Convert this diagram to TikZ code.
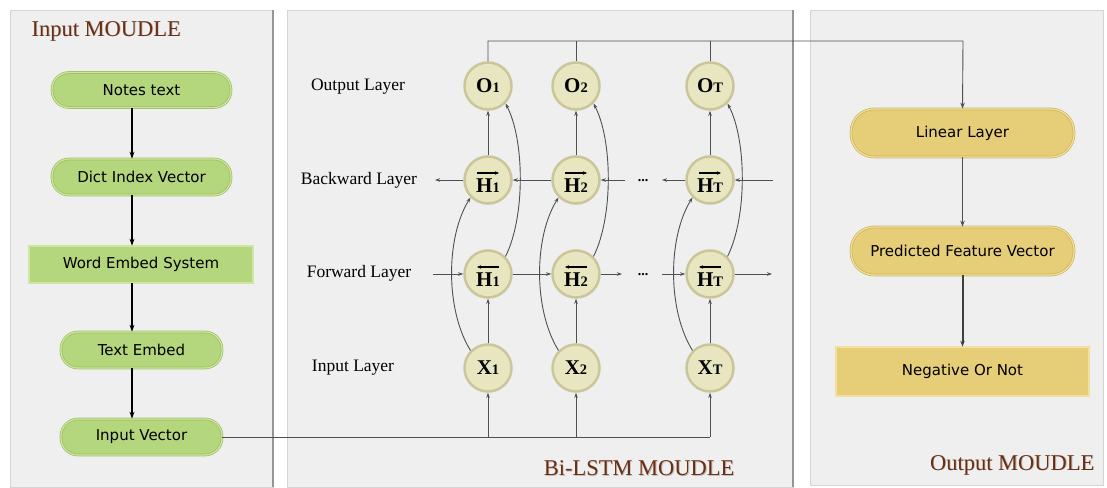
\documentclass[tikz,border=0pt]{standalone}
\usepackage{fontspec}
\setmainfont{Liberation Serif}
\newfontfamily\handfont{DejaVu Sans}
\usetikzlibrary{arrows.meta}
\definecolor{panelbg}{HTML}{EFEFEF}
\definecolor{panelline}{HTML}{D4D4D4}
\definecolor{panelshadow}{HTML}{959595}
\definecolor{gfill}{HTML}{B4D67C}
\definecolor{gline}{HTML}{9DBF62}
\definecolor{ginner}{HTML}{CDE6A2}
\definecolor{yfill}{HTML}{E6CD78}
\definecolor{yline}{HTML}{CFB35A}
\definecolor{yinner}{HTML}{F2E0A0}
\definecolor{cfill}{HTML}{E8E6C0}
\definecolor{cline}{HTML}{CAC699}
\definecolor{titlebrown}{HTML}{6B2E12}
\definecolor{conngray}{HTML}{505050}
\newcommand{\cirlab}[2]{{\bfseries #1{\fontsize{14.5}{14.5}\selectfont #2}}}
\newcommand{\hlab}[2]{\raisebox{-12pt}[0pt][0pt]{\cirlab{#1}{#2}}}
\tikzset{
  panel/.style={fill=panelbg,draw=panelline,line width=0.8pt},
  gbox/.style={draw=gline,fill=gfill,line width=0.7pt,double=ginner,double distance=1.2pt,font=\handfont\fontsize{15}{17}\selectfont,inner sep=0pt},
  gpill/.style={gbox,rounded corners=17pt},
  ybox/.style={draw=yline,fill=yfill,line width=0.7pt,double=yinner,double distance=1.2pt,font=\handfont\fontsize{15}{17}\selectfont,inner sep=0pt},
  ypill/.style={ybox,rounded corners=23pt},
  cnode/.style={circle,fill=cfill,draw=cline,line width=2.5pt,minimum size=47pt,inner sep=0pt,font=\fontsize{21}{22}\selectfont},
  layerlab/.style={font=\fontsize{17.5}{19}\selectfont},
  titletext/.style={font=\fontsize{22.5}{24}\selectfont,text=titlebrown},
  titleshadow/.style={font=\fontsize{22.5}{24}\selectfont,text=black!25},
  blackarrow/.style={draw=black,line width=1.5pt,-{Stealth[length=7pt,width=5pt]}},
  grayarrow/.style={draw=conngray,line width=1.1pt,-{Stealth[length=6pt,width=4.5pt]}},
  thin/.style={draw=conngray,line width=0.9pt},
  thinarrow/.style={thin,-{Stealth[length=5pt,width=3.5pt]}},
  vecarrow/.style={draw=black,line width=1.1pt,-{Stealth[length=4pt,width=3.5pt]}},
  dots/.style={font=\bfseries\fontsize{14}{14}\selectfont}
}
\begin{document}
\begin{tikzpicture}[x=1pt,y=-1pt]
\useasboundingbox (0,0) rectangle (1107,487);
\fill[white] (0,0) rectangle (1107,487);
% panels
\draw[panel] (10,10) rectangle (273,487);
\draw[panelshadow,line width=2pt] (273,10) -- (273,487);
\draw[panel] (287,10) rectangle (793,487);
\draw[panelshadow,line width=2pt] (793,10) -- (793,487);
\draw[panel] (810,10) rectangle (1103,485);
% titles
\node[titleshadow,anchor=west] at (28.8,31.8) {Input MOUDLE};
\node[titletext,anchor=west] (t1) at (28,31) {Input MOUDLE};
\node[titleshadow,anchor=east] at (738.8,468.8) {Bi-LSTM MOUDLE};
\node[titletext,anchor=east] (t2) at (738,468) {Bi-LSTM MOUDLE};
\node[titleshadow,anchor=east] at (1098.8,465.8) {Output MOUDLE};
\node[titletext,anchor=east] (t3) at (1098,465) {Output MOUDLE};
% input module
\node[gpill,minimum width=179pt,minimum height=35pt] (notes) at (141.5,90) {Notes text};
\node[gpill,minimum width=179pt,minimum height=36pt] (dict) at (141.5,177) {Dict Index Vector};
\node[gbox,minimum width=224pt,minimum height=37pt] (wes) at (141,264.5) {Word Embed System};
\node[gpill,minimum width=161pt,minimum height=36pt] (temb) at (141.5,350) {Text Embed};
\node[gpill,minimum width=161pt,minimum height=36pt] (ivec) at (141.5,437) {Input Vector};
\coordinate (lc) at (132,0);
\draw[blackarrow,line width=2pt] (notes.south -| lc) -- (dict.north -| lc);
\draw[blackarrow] (dict.south -| lc) -- (wes.north -| lc);
\draw[blackarrow] (wes.south -| lc) -- (temb.north -| lc);
\draw[blackarrow] (temb.south -| lc) -- (ivec.north -| lc);
% layer labels
\node[layerlab] (lo) at (358,87) {Output Layer};
\node[layerlab] (lb) at (359,180) {Backward Layer};
\node[layerlab] (lf) at (359,273) {Forward Layer};
\node[layerlab] (li) at (353,368) {Input Layer};
% circles
\node[cnode] (o1) at (488,86) {\cirlab{O}{1}};
\node[cnode] (o2) at (576,86) {\cirlab{O}{2}};
\node[cnode] (oT) at (710,86) {\cirlab{O}{T}};
\node[cnode] (hb1) at (488,180) {\hlab{H}{1}};
\node[cnode] (hb2) at (576,180) {\hlab{H}{2}};
\node[cnode] (hbT) at (710,180) {\hlab{H}{T}};
\node[cnode] (hf1) at (488,274) {\hlab{H}{1}};
\node[cnode] (hf2) at (576,274) {\hlab{H}{2}};
\node[cnode] (hfT) at (710,274) {\hlab{H}{T}};
\node[cnode] (x1) at (488,368) {\cirlab{X}{1}};
\node[cnode] (x2) at (576,368) {\cirlab{X}{2}};
\node[cnode] (xT) at (710,368) {\cirlab{X}{T}};
% vector arrows over H
\foreach \c in {1,2,T}{
  \draw[vecarrow] ([xshift=-11pt,yshift=7pt]hb\c.center) -- ([xshift=11pt,yshift=7pt]hb\c.center);
  \draw[vecarrow] ([xshift=11pt,yshift=7pt]hf\c.center) -- ([xshift=-11pt,yshift=7pt]hf\c.center);
}
% dots
\node[dots] (db) at (643,181) {...};
\node[dots] (df) at (643,275) {...};
% backward row (leftwards)
\coordinate (bR) at (773,180);
\coordinate (bL) at (435,180);
\coordinate (bd1) at (662,180);
\coordinate (bd2) at (625,180);
\draw[thinarrow] (bR) -- (hbT.east);
\draw[thinarrow] (hbT.west) -- (bd1);
\draw[thinarrow] (bd2) -- (hb2.east);
\draw[thinarrow] (hb2.west) -- (hb1.east);
\draw[thinarrow] (hb1.west) -- (bL);
% forward row (rightwards)
\coordinate (fL) at (433,274);
\coordinate (fR) at (772,274);
\coordinate (fd1) at (622,274);
\coordinate (fd2) at (662,274);
\draw[thinarrow] (fL) -- (hf1.west);
\draw[thinarrow] (hf1.east) -- (hf2.west);
\draw[thinarrow] (hf2.east) -- (fd1);
\draw[thinarrow] (fd2) -- (hfT.west);
\draw[thinarrow] (hfT.east) -- (fR);
% verticals
\foreach \c in {1,2,T}{
  \draw[thinarrow] (x\c.north) -- (hf\c.south);
  \draw[thinarrow] (hb\c.north) -- (o\c.south);
  \draw[thinarrow] (x\c.135) .. controls +(-25,-40) and +(-25,40) .. (hb\c.225);
  \draw[thinarrow] (hf\c.45) .. controls +(20,-40) and +(19,36) .. (o\c.-45);
}
% input line
\draw[thin] (ivec.east) -- (ivec.east -| xT.south);
\draw[thinarrow] (x1.south |- ivec.east) -- (x1.south);
\draw[thinarrow] (x2.south |- ivec.east) -- (x2.south);
\draw[thinarrow] (xT.south |- ivec.east) -- (xT.south);
% output module
\node[ypill,minimum width=223pt,minimum height=48pt] (lin) at (962.5,133) {Linear Layer};
\node[ypill,minimum width=223pt,minimum height=48pt] (pred) at (962.5,251) {Predicted Feature Vector};
\node[ybox,minimum width=253pt,minimum height=49pt] (neg) at (962.5,371.5) {Negative Or Not};
% output line
\coordinate (tr) at (963,41);
\draw[thin] (o2.north) -- (o2.north |- tr);
\draw[thin] (oT.north) -- (oT.north |- tr);
\draw[grayarrow,line width=0.9pt] (o1.north) |- (tr) -- (lin.north);
\draw[grayarrow] (lin.south) -- (pred.north);
\draw[grayarrow,line width=2pt,draw=black!75] (pred.south) -- (neg.north);
\end{tikzpicture}
\end{document}
